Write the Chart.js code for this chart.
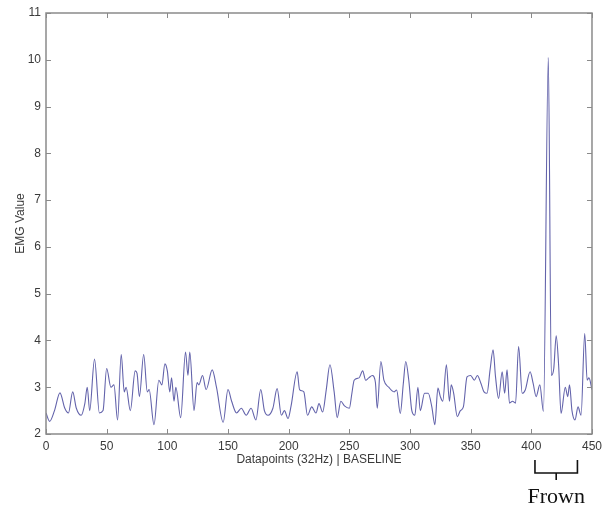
<!DOCTYPE html>
<html lang="en">
<head>
    <meta charset="UTF-8">
    <title>EMG baseline</title>
    <script src="https://cdn.jsdelivr.net/npm/chart.js@4.4.9/dist/chart.umd.min.js"></script>
    <style>
        html, body { margin: 0; padding: 0; background: #ffffff; }
        .grafico { width: 607px; height: 508px; }
    </style>
</head>
<body>
    <div class="grafico">
        <canvas id="emgCanvas" width="607" height="508"></canvas>
    </div>
<script>
    // datapoint index (x)
    const pontos = [
        0, 3, 7, 11.5, 15.5, 18.5, 22, 25, 29, 32, 34, 36, 40, 44, 47, 50, 53.5, 56, 59, 62,
        64.5, 66, 69.5, 73.5, 75, 77, 80.5, 83.5, 85, 89, 93, 95.5, 98, 100, 102, 103.5, 105.5, 107, 111, 115,
        117, 118.5, 122, 124.5, 126, 129, 132, 137, 140.5, 146, 150, 153, 157, 161, 165, 169, 173, 177, 180, 183,
        187, 190.5, 194, 196.5, 199.5, 202, 207, 209, 212.5, 215.5, 219, 222.5, 225, 228, 231, 234, 237.5, 240, 243, 246,
        250, 252, 254, 258, 261, 263.5, 266, 269, 271.5, 273, 276, 278.5, 282.5, 287, 289, 292, 294.5, 296.5, 299, 301.5,
        304, 306.5, 308.5, 312, 315, 318, 320.5, 323, 325, 327, 330, 332.5, 334, 336, 339, 341.5, 344, 347, 350, 353,
        355.5, 358.5, 361, 363.5, 366, 368.5, 370.5, 373, 376, 378, 380, 382, 384.5, 387, 389.5, 392.5, 395, 399, 401.5, 404,
        407, 410, 414, 416.5, 418.5, 420.5, 422.5, 424.5, 428, 430, 431.5, 433.5, 436, 438.5, 441, 444, 446, 447.5, 450
    ];
    // EMG value at each datapoint
    const emg = [
        2.45, 2.27, 2.5, 2.88, 2.55, 2.45, 2.9, 2.55, 2.4, 2.65, 3.0, 2.5, 3.6, 2.45, 2.5, 3.4, 3.0, 3.05, 2.3, 3.7,
        2.9, 3.0, 2.5, 3.35, 3.3, 2.8, 3.7, 2.9, 2.95, 2.2, 3.15, 3.05, 3.5, 3.35, 2.9, 3.2, 2.7, 3.0, 2.35, 3.75,
        3.25, 3.75, 2.5, 3.1, 3.05, 3.25, 2.95, 3.37, 3.0, 2.25, 2.95, 2.7, 2.45, 2.55, 2.4, 2.55, 2.3, 2.95, 2.5, 2.4,
        2.55, 2.97, 2.4, 2.5, 2.33, 2.6, 3.33, 2.95, 2.9, 2.4, 2.58, 2.45, 2.65, 2.47, 2.95, 3.48, 2.9, 2.35, 2.7, 2.6,
        2.55, 2.85, 3.15, 3.2, 3.35, 3.15, 3.2, 3.25, 3.1, 2.55, 3.55, 3.15, 3.0, 2.9, 2.94, 2.44, 3.08, 3.55, 3.15, 2.5,
        2.4, 3.0, 2.5, 2.87, 2.87, 2.58, 2.2, 2.98, 2.8, 2.7, 3.48, 2.7, 3.05, 2.87, 2.37, 2.5, 2.58, 3.22, 3.25, 3.15,
        3.25, 3.08, 2.9, 2.87, 3.37, 3.8, 3.22, 2.76, 3.33, 2.87, 3.37, 2.66, 2.7, 2.66, 3.87, 2.87, 2.94, 3.33, 3.08, 2.8,
        3.05, 2.48, 10.05, 3.25, 3.4, 4.1, 3.47, 2.44, 3.0, 2.8, 3.05, 2.5, 2.3, 2.58, 2.4, 4.15, 3.15, 3.2, 2.95
    ];
    const xTicks = [0, 50, 100, 150, 200, 250, 300, 350, 400, 450];
    const yTicks = [2, 3, 4, 5, 6, 7, 8, 9, 10, 11];
    const frownRange = [403, 438];

    const corTexto = '#3a3a3a';
    const corMoldura = '#8a8a8a';

    // moldura estilo matlab com ticks para dentro nos 4 lados
    const molduraPlugin = {
        id: 'moldura',
        afterDraw(chart) {
            const ctx = chart.ctx;
            const a = chart.chartArea;
            const sx = chart.scales.x;
            const sy = chart.scales.y;
            ctx.save();
            ctx.strokeStyle = corMoldura;
            ctx.lineWidth = 1.5;
            ctx.strokeRect(a.left, a.top, a.right - a.left, a.bottom - a.top);
            ctx.lineWidth = 1;
            ctx.beginPath();
            xTicks.forEach(function (v) {
                const px = Math.round(sx.getPixelForValue(v)) + 0.5;
                ctx.moveTo(px, a.bottom); ctx.lineTo(px, a.bottom - 5);
                ctx.moveTo(px, a.top); ctx.lineTo(px, a.top + 5);
            });
            yTicks.forEach(function (v) {
                const py = Math.round(sy.getPixelForValue(v)) + 0.5;
                ctx.moveTo(a.left, py); ctx.lineTo(a.left + 5, py);
                ctx.moveTo(a.right, py); ctx.lineTo(a.right - 5, py);
            });
            ctx.stroke();

            // colchete "Frown" abaixo do eixo x
            const x1 = sx.getPixelForValue(frownRange[0]);
            const x2 = sx.getPixelForValue(frownRange[1]);
            const xm = (x1 + x2) / 2;
            const b = a.bottom;
            ctx.strokeStyle = '#111111';
            ctx.lineWidth = 1.6;
            ctx.beginPath();
            ctx.moveTo(x1, b + 26); ctx.lineTo(x1, b + 39); ctx.lineTo(x2, b + 39); ctx.lineTo(x2, b + 26);
            ctx.moveTo(xm, b + 39); ctx.lineTo(xm, b + 46);
            ctx.stroke();
            ctx.fillStyle = '#111111';
            ctx.font = '22px "Liberation Serif", "Times New Roman", serif';
            ctx.textAlign = 'center';
            ctx.textBaseline = 'alphabetic';
            ctx.fillText('Frown', xm, b + 69);
            ctx.restore();
        }
    };

    const dados = {
        datasets: [{
            label: 'EMG',
            data: pontos.map(function (x, i) { return { x: x, y: emg[i] }; }),
            borderColor: '#6363ab',
            borderWidth: 1.1,
            pointRadius: 0,
            fill: false,
            cubicInterpolationMode: 'monotone'
        }]
    };

    const config = {
        type: 'line',
        data: dados,
        plugins: [molduraPlugin],
        options: {
            responsive: false,
            animation: false,
            layout: { padding: { left: 0, right: 10, top: 13, bottom: 41 } },
            plugins: {
                legend: { display: false },
                tooltip: { enabled: false }
            },
            scales: {
                x: {
                    type: 'linear',
                    min: 0,
                    max: 450,
                    afterBuildTicks: function (s) { s.ticks = xTicks.map(function (v) { return { value: v }; }); },
                    afterFit: function (s) { s.height = 33; },
                    grid: { display: false, drawTicks: false },
                    border: { display: false },
                    ticks: {
                        color: corTexto,
                        padding: 5,
                        maxRotation: 0,
                        font: { family: '"Liberation Sans", Arial, sans-serif', size: 12 }
                    },
                    title: {
                        display: true,
                        text: 'Datapoints (32Hz) | BASELINE',
                        color: corTexto,
                        padding: 0,
                        font: { family: '"Liberation Sans", Arial, sans-serif', size: 12 }
                    }
                },
                y: {
                    min: 2,
                    max: 11,
                    afterBuildTicks: function (s) { s.ticks = yTicks.map(function (v) { return { value: v }; }); },
                    afterFit: function (s) { s.width = 46; },
                    grid: { display: false, drawTicks: false },
                    border: { display: false },
                    ticks: {
                        color: corTexto,
                        padding: 5,
                        font: { family: '"Liberation Sans", Arial, sans-serif', size: 12 }
                    },
                    title: {
                        display: true,
                        text: 'EMG Value',
                        color: corTexto,
                        padding: { top: 13, bottom: 0 },
                        font: { family: '"Liberation Sans", Arial, sans-serif', size: 12 }
                    }
                }
            }
        }
    };

    let myChart = new Chart(document.getElementById('emgCanvas'), config);
</script>
</body>
</html>
